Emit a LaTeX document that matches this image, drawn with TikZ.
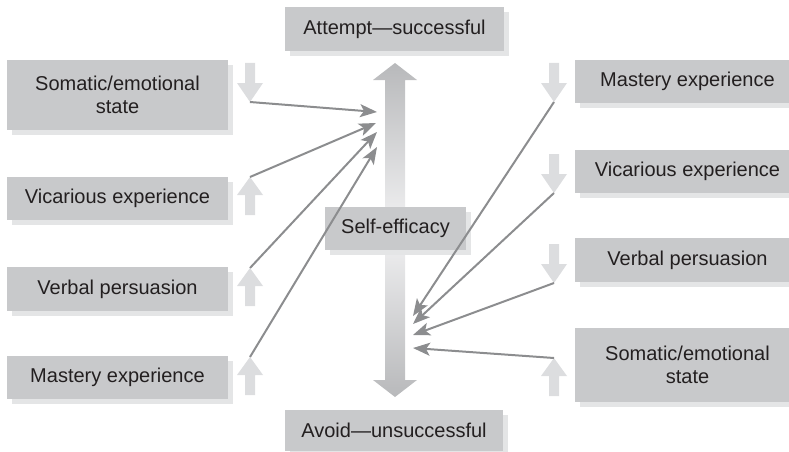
\documentclass[tikz,border=0pt]{standalone}
\usepackage{fontspec}
\setmainfont{Liberation Sans}
\usetikzlibrary{arrows.meta,shadows}
\definecolor{boxgray}{HTML}{C8C9CB}
\definecolor{shadowgray}{HTML}{E4E5E6}
\definecolor{arrgray}{HTML}{DCDDDF}
\definecolor{linegray}{HTML}{8C8D8F}
\definecolor{txt}{HTML}{231F20}
\definecolor{bigdark}{HTML}{B8B9BB}
\definecolor{biglight}{HTML}{F2F2F3}
\tikzset{
  box/.style={fill=boxgray, draw=none, text=txt, align=center, inner sep=0pt,
    font=\fontsize{20}{23}\selectfont,
    general shadow={fill=shadowgray, shadow xshift=5pt, shadow yshift=-5pt}},
  conn/.style={draw=linegray, line width=2pt, -{Stealth[length=17pt,width=13pt,inset=4pt]}},
  smallup/.pic={\fill[arrgray] (-5,0) -- (-5,-20) -- (-13,-20) -- (0,-38) -- (13,-20) -- (5,-20) -- (5,0) -- cycle;},
  smalldown/.pic={\fill[arrgray] (-5,0) -- (-5,20) -- (-13,20) -- (0,39) -- (13,20) -- (5,20) -- (5,0) -- cycle;}
}
\begin{document}
\begin{tikzpicture}[x=1pt,y=-1pt]
\useasboundingbox (0,0) rectangle (789,452);
% central double arrow
\shade[top color=bigdark, bottom color=bigdark, middle color=biglight]
  (395,63) -- (417,80) -- (405,80) -- (405,380) -- (417,380) -- (395,397)
  -- (373,380) -- (385,380) -- (385,80) -- (373,80) -- cycle;
% small block arrows
\pic at (250,63) {smalldown};
\pic at (250,215) {smallup};
\pic at (250,306) {smallup};
\pic at (250,395) {smallup};
\pic at (554,63) {smalldown};
\pic at (554,154) {smalldown};
\pic at (554,244) {smalldown};
\pic at (554,396) {smallup};
% tips of small arrows
\coordinate (l1) at (250,102);
\coordinate (l2) at (250,177);
\coordinate (l3) at (250,268);
\coordinate (l4) at (250,357);
\coordinate (r1) at (554,102);
\coordinate (r2) at (554,193);
\coordinate (r3) at (554,283);
\coordinate (r4) at (554,358);
% targets on the central arrow
\coordinate (tl1) at (377,112);
\coordinate (tl2) at (376,123);
\coordinate (tl3) at (377,132);
\coordinate (tl4) at (377,147);
\coordinate (tr1) at (413,316);
\coordinate (tr2) at (413,324);
\coordinate (tr3) at (413,335);
\coordinate (tr4) at (413,348);
% boxes
\node[box, minimum width=219pt, minimum height=44pt] (top) at (394.5,29) {Attempt—successful};
\node[box, minimum width=218pt, minimum height=41pt] (bottom) at (394,430.5) {Avoid—unsuccessful};
\node[box, minimum width=141pt, minimum height=43pt] (self) at (395.5,228.5) {Self-efficacy};
\node[box, minimum width=221pt, minimum height=70pt] (L1) at (117.5,95) {Somatic/emotional\\state};
\node[box, minimum width=221pt, minimum height=43pt] (L2) at (117.5,198.5) {Vicarious experience};
\node[box, minimum width=221pt, minimum height=44pt] (L3) at (117.5,289) {Verbal persuasion};
\node[box, minimum width=221pt, minimum height=43pt] (L4) at (117.5,377.5) {Mastery experience};
\node[box, minimum width=225pt, minimum height=43pt] (R1) at (687.5,81.5) {Mastery experience};
\node[box, minimum width=225pt, minimum height=43pt] (R2) at (687.5,171.5) {Vicarious experience};
\node[box, minimum width=225pt, minimum height=44pt] (R3) at (687.5,260) {Verbal persuasion};
\node[box, minimum width=225pt, minimum height=74pt] (R4) at (687.5,365) {Somatic/emotional\\state};
% connectors
\draw[conn] (l1) -- (tl1);
\draw[conn] (l2) -- (tl2);
\draw[conn] (l3) -- (tl3);
\draw[conn] (l4) -- (tl4);
\draw[conn] (r1) -- (tr1);
\draw[conn] (r2) -- (tr2);
\draw[conn] (r3) -- (tr3);
\draw[conn] (r4) -- (tr4);
\end{tikzpicture}
\end{document}
